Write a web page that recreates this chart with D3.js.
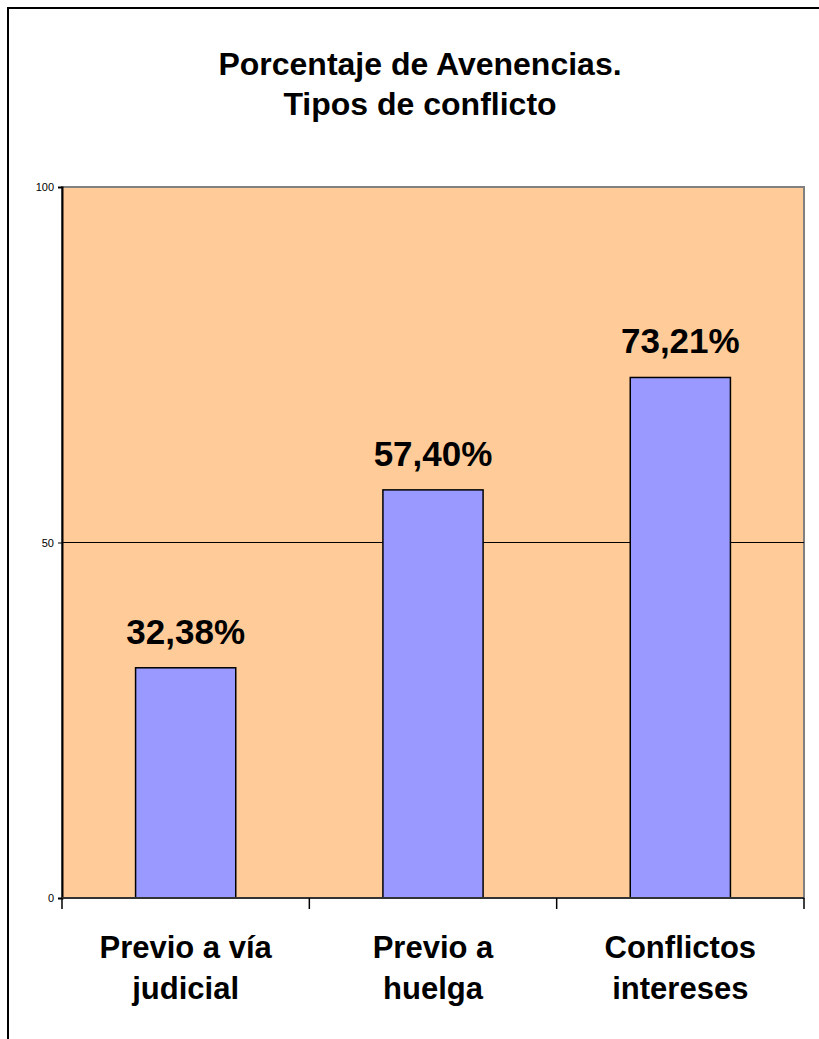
<!DOCTYPE html>
<html>
<head>
<meta charset="utf-8">
<script src="https://d3js.org/d3.v7.min.js"></script>
<style>
  html, body { margin: 0; padding: 0; background: #ffffff; overflow: hidden; }
  svg { display: block; overflow: hidden; }
  text { font-family: Arial, "Liberation Sans", sans-serif; }
</style>
</head>
<body>
<script>
const titleLines = ["Porcentaje de Avenencias.", "Tipos de conflicto"];
const categories = [["Previo a vía", "judicial"], ["Previo a", "huelga"], ["Conflictos", "intereses"]];
const values = [32.38, 57.40, 73.21];
const valueLabels = ["32,38%", "57,40%", "73,21%"];
const yTicks = [0, 50, 100];

const W = 819, H = 1039;
const svg = d3.select("body").append("svg").attr("width", W).attr("height", H);

// outer chart border: only top and left edges are visible in the frame
svg.append("path")
  .attr("d", d3.line()([[8, H], [8, 8], [W, 8]]))
  .attr("fill", "none").attr("stroke", "#000000").attr("stroke-width", 2);

const plot = { left: 62, top: 187, right: 804, bottom: 898 };

const x = d3.scaleBand().domain(d3.range(categories.length))
  .range([plot.left, plot.right]).paddingInner(0.595).paddingOuter(0.2975);
const xb = d3.scaleBand().domain(d3.range(categories.length)).range([plot.left, plot.right]);
const y = d3.scaleLinear().domain([0, 100]).range([plot.bottom, plot.top]);

// plot background
svg.append("rect").attr("x", plot.left).attr("y", plot.top)
  .attr("width", plot.right - plot.left).attr("height", plot.bottom - plot.top)
  .attr("fill", "#FFCC99").attr("stroke", "#808080").attr("stroke-width", 2);

// gridlines
svg.append("g").selectAll("line").data(yTicks.filter(d => d > 0 && d < 100)).join("line")
  .attr("x1", plot.left).attr("x2", plot.right)
  .attr("y1", d => y(d)).attr("y2", d => y(d))
  .attr("stroke", "#000000").attr("stroke-width", 1);

// bars
svg.append("g").selectAll("rect").data(values).join("rect")
  .attr("x", (d, i) => x(i)).attr("width", x.bandwidth())
  .attr("y", d => y(d)).attr("height", d => y(0) - y(d))
  .attr("fill", "#9999FF").attr("stroke", "#000000").attr("stroke-width", 1.5);

// value labels
svg.append("g").selectAll("text").data(values).join("text")
  .attr("x", (d, i) => x(i) + x.bandwidth() / 2)
  .attr("y", d => y(d) - 24)
  .attr("text-anchor", "middle")
  .attr("font-size", 35).attr("font-weight", "bold").attr("fill", "#000")
  .text((d, i) => valueLabels[i]);

// y axis
const yAxis = d3.axisLeft(y).tickValues(yTicks).tickSize(4).tickPadding(4);
const gy = svg.append("g").attr("transform", `translate(${plot.left},0)`).call(yAxis);
gy.select(".domain").attr("stroke", "#000").attr("stroke-width", 2);
gy.selectAll(".tick line").attr("stroke", "#000");
gy.selectAll(".tick text").attr("font-size", 11).attr("font-family", "Arial, 'Liberation Sans', sans-serif").attr("fill", "#000");

// x axis line and ticks at band boundaries
const bounds = [plot.left].concat(d3.range(categories.length).map(i => xb(i) + xb.bandwidth()));
svg.append("line").attr("x1", plot.left).attr("x2", plot.right)
  .attr("y1", plot.bottom).attr("y2", plot.bottom)
  .attr("stroke", "#333333").attr("stroke-width", 2);
svg.append("g").selectAll("line").data(bounds).join("line")
  .attr("x1", d => d).attr("x2", d => d)
  .attr("y1", plot.bottom).attr("y2", plot.bottom + 11)
  .attr("stroke", "#000").attr("stroke-width", 1.5);

// category labels
const cl = svg.append("g").selectAll("text").data(categories).join("text")
  .attr("x", (d, i) => xb(i) + xb.bandwidth() / 2)
  .attr("y", 958)
  .attr("text-anchor", "middle")
  .attr("font-size", 31).attr("font-weight", "bold").attr("fill", "#000");
cl.selectAll("tspan").data(d => d).join("tspan")
  .attr("x", function() { return d3.select(this.parentNode).attr("x"); })
  .attr("dy", (d, i) => i === 0 ? 0 : 41)
  .text(d => d);

// title
svg.append("g").selectAll("text").data(titleLines).join("text")
  .attr("x", 420).attr("y", (d, i) => 75 + i * 40)
  .attr("text-anchor", "middle")
  .attr("font-size", 32).attr("font-weight", "bold").attr("fill", "#000")
  .text(d => d);
</script>
</body>
</html>
